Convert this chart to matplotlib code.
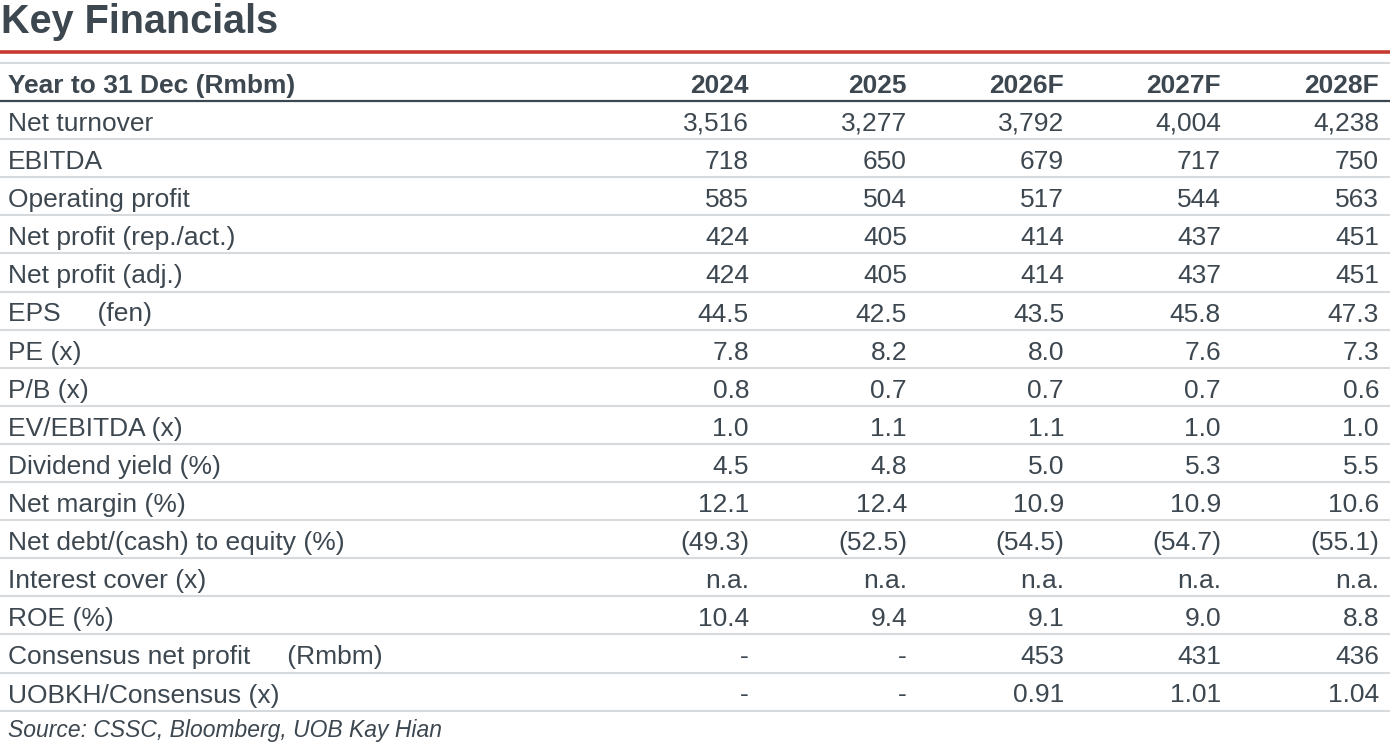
import matplotlib.pyplot as plt

years = ["2024", "2025", "2026F", "2027F", "2028F"]
row_labels = [
    "Net turnover",
    "EBITDA",
    "Operating profit",
    "Net profit (rep./act.)",
    "Net profit (adj.)",
    "EPS     (fen)",
    "PE (x)",
    "P/B (x)",
    "EV/EBITDA (x)",
    "Dividend yield (%)",
    "Net margin (%)",
    "Net debt/(cash) to equity (%)",
    "Interest cover (x)",
    "ROE (%)",
    "Consensus net profit     (Rmbm)",
    "UOBKH/Consensus (x)",
]
values = [
    ["3,516", "3,277", "3,792", "4,004", "4,238"],
    ["718", "650", "679", "717", "750"],
    ["585", "504", "517", "544", "563"],
    ["424", "405", "414", "437", "451"],
    ["424", "405", "414", "437", "451"],
    ["44.5", "42.5", "43.5", "45.8", "47.3"],
    ["7.8", "8.2", "8.0", "7.6", "7.3"],
    ["0.8", "0.7", "0.7", "0.7", "0.6"],
    ["1.0", "1.1", "1.1", "1.0", "1.0"],
    ["4.5", "4.8", "5.0", "5.3", "5.5"],
    ["12.1", "12.4", "10.9", "10.9", "10.6"],
    ["(49.3)", "(52.5)", "(54.5)", "(54.7)", "(55.1)"],
    ["n.a.", "n.a.", "n.a.", "n.a.", "n.a."],
    ["10.4", "9.4", "9.1", "9.0", "8.8"],
    ["-", "-", "453", "431", "436"],
    ["-", "-", "0.91", "1.01", "1.04"],
]

TXT = "#3d4750"
RED = "#c63a31"
GRID = "#d6dadd"
FONT = "Liberation Sans"

W, H = 1397, 747
fig = plt.figure(figsize=(W / 100, H / 100), dpi=100)
ax = fig.add_axes([0, 0, 1, 1])
ax.set_xlim(0, W)
ax.set_ylim(H, 0)
ax.axis("off")

col_right = [749, 907, 1064, 1221, 1379]
x_left = 8
x_end = 1390
head_line = 101
step = 38.1
fs = 19

# title + top rules
ax.text(1, 33, "Key Financials", fontsize=28.5, fontweight="bold", color=TXT,
        family=FONT, va="baseline", ha="left")
ax.plot([0, x_end], [51.5, 51.5], color=RED, lw=2.6, solid_capstyle="butt")
ax.plot([0, x_end], [62.5, 62.5], color=GRID, lw=1.5, solid_capstyle="butt")

# header row
ax.text(x_left, 93, "Year to 31 Dec (Rmbm)", fontsize=fs, fontweight="bold",
        color=TXT, family=FONT, va="baseline", ha="left")
for x, y in zip(col_right, years):
    ax.text(x, 93, y, fontsize=fs, fontweight="bold", color=TXT,
            family=FONT, va="baseline", ha="right")
ax.plot([0, x_end], [head_line, head_line], color=TXT, lw=1.6, solid_capstyle="butt")

# body rows
for i, (lab, vals) in enumerate(zip(row_labels, values)):
    top = head_line + i * step
    base = top + 30
    ax.text(x_left, base, lab, fontsize=fs, color=TXT, family=FONT,
            va="baseline", ha="left")
    for x, v in zip(col_right, vals):
        ax.text(x, base, v, fontsize=fs, color=TXT, family=FONT,
                va="baseline", ha="right")
    yl = top + step
    ax.plot([0, x_end], [yl, yl], color=GRID, lw=1.5, solid_capstyle="butt")

ax.text(x_left, 737, "Source: CSSC, Bloomberg, UOB Kay Hian", fontsize=16.5,
        style="italic", color=TXT, family=FONT, va="baseline", ha="left")

fig.savefig("out.png", dpi=100)
